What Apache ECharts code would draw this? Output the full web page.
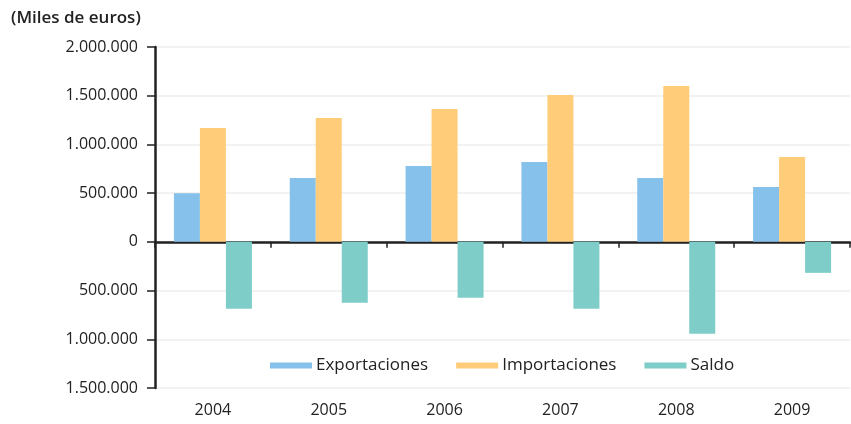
<!DOCTYPE html>
<html>
    <head>
        <meta charset="utf-8">
        <title>Exportaciones e importaciones</title>
        <script src="https://cdn.jsdelivr.net/npm/echarts@6/dist/echarts.min.js"></script>
        <style>
            html, body { margin: 0; padding: 0; background: #fff; }
        </style>
    </head>
    <body>
        <div id="chart1" style="width:851px;height:424px;"></div>
        <script type="text/javascript">
            // datos (miles de euros)
            var years = ['2004', '2005', '2006', '2007', '2008', '2009'];
            var exportaciones = [500000, 656000, 779000, 820000, 656000, 564000];
            var importaciones = [1169000, 1272000, 1364000, 1508000, 1600000, 872000];
            var saldo = [-687000, -626000, -574000, -687000, -944000, -318000];

            var font = 'Open Sans';

            function miles(v) {
                var s = String(Math.abs(v));
                return s.replace(/\B(?=(\d{3})+(?!\d))/g, '.');
            }

            var myChart1 = echarts.init(document.getElementById('chart1'));

            var option = {
                animation: false,
                textStyle: { fontFamily: font },
                title: {
                    text: '(Miles de euros)',
                    left: 11,
                    top: 10,
                    padding: 0,
                    textStyle: { fontFamily: font, fontSize: 17, fontWeight: 600, color: '#222' }
                },
                legend: {
                    data: ['Exportaciones', 'Importaciones', 'Saldo'],
                    left: 270,
                    top: 357,
                    padding: 0,
                    icon: 'rect',
                    itemWidth: 42,
                    itemHeight: 6,
                    itemGap: 28,
                    textStyle: { fontFamily: font, fontSize: 17, color: '#222', padding: [0, 0, 0, -1] }
                },
                grid: {
                    left: 155,
                    right: 1,
                    top: 47,
                    bottom: 36
                },
                xAxis: [{
                    type: 'category',
                    data: years,
                    axisLine: { onZero: true, lineStyle: { color: '#222', width: 2.5 } },
                    axisTick: { show: true, length: 6, lineStyle: { color: '#222', width: 1.5 } },
                    axisLabel: { show: false },
                    splitLine: { show: false }
                }, {
                    type: 'category',
                    data: years,
                    position: 'bottom',
                    axisLine: { show: false, onZero: false },
                    axisTick: { show: false },
                    axisLabel: { margin: 14, fontFamily: font, fontSize: 16, color: '#222' }
                }],
                yAxis: {
                    type: 'value',
                    min: -1500000,
                    max: 2000000,
                    interval: 500000,
                    axisLine: { show: true, lineStyle: { color: '#222', width: 2.5 } },
                    axisTick: { show: true, length: 8, lineStyle: { color: '#222', width: 1.5 } },
                    axisLabel: {
                        margin: 17,
                        fontFamily: font,
                        fontSize: 16,
                        color: '#222',
                        formatter: miles
                    },
                    splitLine: { lineStyle: { color: '#eeeeee', width: 1.5 } }
                },
                series: [{
                    name: 'Exportaciones',
                    type: 'bar',
                    data: exportaciones,
                    barWidth: 26,
                    barGap: '0%',
                    itemStyle: { color: '#85c1ea' }
                }, {
                    name: 'Importaciones',
                    type: 'bar',
                    data: importaciones,
                    barWidth: 26,
                    barGap: '0%',
                    itemStyle: { color: '#ffcc7a' }
                }, {
                    name: 'Saldo',
                    type: 'bar',
                    data: saldo,
                    barWidth: 26,
                    barGap: '0%',
                    itemStyle: { color: '#7ecdc8' }
                }]
            };
            myChart1.setOption(option);
        </script>
    </body>
</html>
